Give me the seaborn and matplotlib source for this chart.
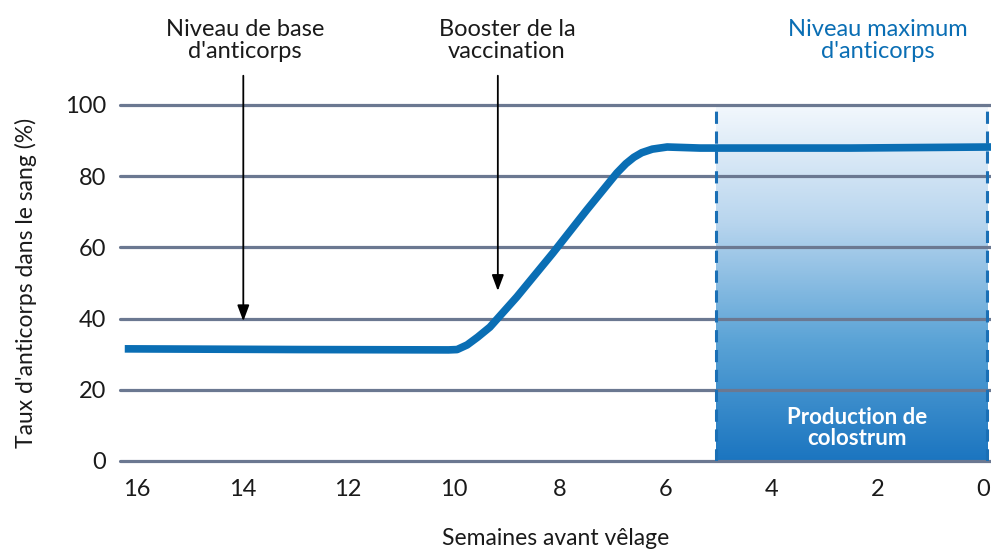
#!/usr/bin/env python3
"""
Taux d'anticorps dans le sang avant vêlage - recreation with seaborn.
"""

import numpy as np
import pandas as pd
import matplotlib.pyplot as plt
from matplotlib.colors import LinearSegmentedColormap
import seaborn as sns

sns.set_theme(style="white")
plt.rcParams['font.family'] = ['Lato', 'DejaVu Sans']

# Values
weeks = [16.22, 12.9, 10.1, 9.94, 9.75, 9.55, 9.32, 8.81, 8.13, 7.49, 6.92,
         6.75, 6.6, 6.45, 6.25, 5.97, 5.35, 2.5, -0.15]
antibody = [31.5, 31.3, 31.2, 31.3, 32.6, 34.8, 37.6, 46.1, 58.4, 70.5, 80.9,
            83.5, 85.3, 86.6, 87.6, 88.2, 87.9, 87.9, 88.2]
x_ticks = [16, 14, 12, 10, 8, 6, 4, 2, 0]
y_ticks = [0, 20, 40, 60, 80, 100]
colostrum_start = 5.05
colostrum_end = -0.08

LINE_BLUE = "#0a6eb4"
GRID = "#6b7891"
DASH_BLUE = "#1a6fb5"
TEXT = "#1a1a1a"

df = pd.DataFrame({"semaines": weeks, "taux": antibody})

fig = plt.figure(figsize=(9.91, 5.54), dpi=100)
ax = fig.add_axes([0.1211, 0.1679, 0.8789, 0.6426])

# gradient colostrum area
cmap = LinearSegmentedColormap.from_list("colo", ["#1b75c0", "#5aa3d6", "#b8d5ee", "#f3f8fd"])
grad = np.linspace(0, 1, 256).reshape(-1, 1)
ax.imshow(grad, aspect="auto", cmap=cmap, origin="lower",
          extent=[colostrum_start, colostrum_end, 0, 100], zorder=0)

for y in y_ticks:
    ax.axhline(y, color=GRID, lw=2.3, zorder=1, clip_on=False)

for xv in (colostrum_start, colostrum_end):
    ax.plot([xv, xv], [0, 100], color=DASH_BLUE, lw=2.2, ls=(0, (4, 2.5)), zorder=2)

sns.lineplot(data=df, x="semaines", y="taux", ax=ax, color=LINE_BLUE, lw=5.5,
             sort=False, zorder=3, solid_capstyle="butt", solid_joinstyle="round")

ax.set_xlim(16.31, -0.15)
ax.set_ylim(0, 100)
ax.set_xticks(x_ticks)
ax.set_yticks(y_ticks)
ax.tick_params(axis="both", length=0, labelsize=17, labelcolor=TEXT)
ax.tick_params(axis="x", pad=13)
ax.tick_params(axis="y", pad=10)
sns.despine(ax=ax, left=True, bottom=True)

ax.set_xlabel("Semaines avant vêlage", fontsize=16.5, labelpad=20, color=TEXT)
ax.set_ylabel("Taux d'anticorps dans le sang (%)", fontsize=16.5, labelpad=20, color=TEXT)

# annotations with arrows
arrow = dict(arrowstyle="-|>,head_length=0.8,head_width=0.3", color="black", lw=1.3)
ax.annotate("", xy=(13.98, 38.5), xytext=(13.98, 109), arrowprops=arrow, annotation_clip=False)
ax.text(13.95, 112, "Niveau de base\nd'anticorps", ha="center", va="bottom", fontsize=17,
        color=TEXT, linespacing=1.1, clip_on=False)

ax.annotate("", xy=(9.17, 47), xytext=(9.17, 109), arrowprops=arrow, annotation_clip=False)
ax.text(9.0, 112, "Booster de la\nvaccination", ha="center", va="bottom", fontsize=17,
        color=TEXT, linespacing=1.1, clip_on=False)

ax.text(1.98, 112, "Niveau maximum\nd'anticorps", ha="center", va="bottom", fontsize=17,
        color=LINE_BLUE, linespacing=1.1, clip_on=False)

ax.text(2.38, 9.3, "Production de\ncolostrum", ha="center", va="center", fontsize=16,
        color="white", fontweight="bold", linespacing=1.0, zorder=4)

plt.savefig("out.png", dpi=100)
plt.close()
